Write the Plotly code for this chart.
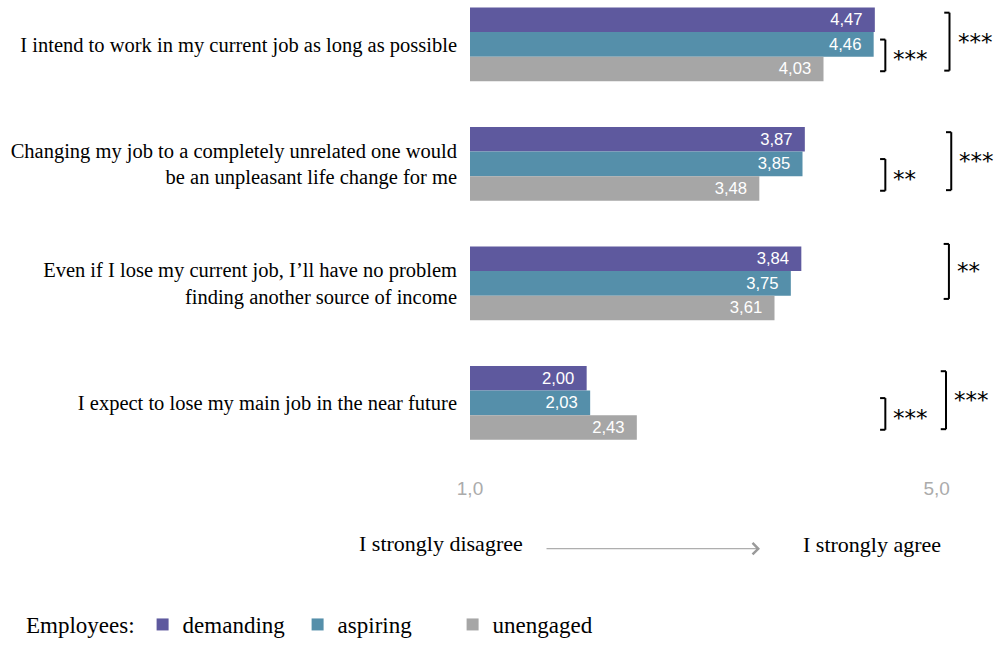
import plotly.graph_objects as go

# ---------------- data ----------------
categories = [
    "I intend to work in my current job as long as possible",
    "Changing my job to a completely unrelated one would<br>be an unpleasant life change for me",
    "Even if I lose my current job, I’ll have no problem<br>finding another source of income",
    "I expect to lose my main job in the near future",
]
demanding = [4.47, 3.87, 3.84, 2.00]
aspiring = [4.46, 3.85, 3.75, 2.03]
unengaged = [4.03, 3.48, 3.61, 2.43]
series_names = ["demanding", "aspiring", "unengaged"]
# significance marks: inner = aspiring vs unengaged, outer = demanding vs unengaged
sig_inner = ["***", "**", "", "***"]
sig_outer = ["***", "***", "**", "***"]
tick_values = [1.0, 5.0]
scale_labels = ["I strongly disagree", "I strongly agree"]
legend_title = "Employees:"

# ---------------- style ----------------
colors = ["#5E599E", "#558FAA", "#A6A6A6"]
SERIF = "Liberation Serif"
SANS = "Liberation Sans"

W, H = 998, 646
ML, MR, MT, MB = 470, 3, 0, 176
plot_h = H - MT - MB
y_top, y_bot = -0.371, 3.503
unit = plot_h / (y_bot - y_top)  # px per category step
bar_step = 25 / unit

fig = go.Figure()
for name, vals, col in zip(series_names, [demanding, aspiring, unengaged], colors):
    fig.add_trace(go.Bar(
        name=name, y=categories, x=vals, orientation="h",
        marker=dict(color=col, line=dict(width=0)),
        texttemplate="%{x:.2f}\u00a0\u00a0", textposition="inside", insidetextanchor="end",
        textfont=dict(family=SANS, size=17, color="white"),
        cliponaxis=True,
    ))

shapes = []
annotations = []


def bracket(cy0, cy1, x, label, ystar_shift=0):
    arm = 0.045
    for (xa, ya, xb, yb) in [(x - arm, cy0, x, cy0), (x, cy0, x, cy1), (x - arm, cy1, x, cy1)]:
        shapes.append(dict(type="line", xref="x", yref="y", x0=xa, y0=ya, x1=xb, y1=yb,
                           line=dict(color="black", width=2)))
    annotations.append(dict(x=x, y=(cy0 + cy1) / 2, xref="x", yref="y", text=label,
                            showarrow=False, xanchor="left", yanchor="middle", xshift=6,
                            yshift=ystar_shift,
                            font=dict(family="DejaVu Sans", size=23, color="black")))


outer_x = [5.11, 5.125, 5.105, 5.08]
for i in range(len(categories)):
    if sig_inner[i]:
        bracket(i - 0.04, i + 0.225, 4.56, sig_inner[i], -4)
    if sig_outer[i]:
        o0, o1 = (-0.265, 0.22) if i != 2 else (-0.33, 0.13)
        bracket(i + o0, i + o1, outer_x[i], sig_outer[i], 0)


def px_x(px):
    return (px - ML) / (W - ML - MR)


def px_y(py):
    return (H - MB - py) / plot_h


annotations.append(dict(x=px_x(441), y=px_y(552), xref="paper", yref="paper",
                        text=scale_labels[0], showarrow=False, xanchor="center", yanchor="middle",
                        font=dict(family=SERIF, size=22, color="black")))
annotations.append(dict(x=px_x(872), y=px_y(553), xref="paper", yref="paper",
                        text=scale_labels[1], showarrow=False, xanchor="center", yanchor="middle",
                        font=dict(family=SERIF, size=22, color="black")))
annotations.append(dict(x=px_x(760), y=px_y(557), xref="paper", yref="paper",
                        ax=-215, ay=0, axref="pixel", ayref="pixel", text="",
                        showarrow=True, arrowhead=4, arrowsize=2.2, arrowwidth=1,
                        arrowcolor="#9A9A9A"))

fig.update_layout(
    width=W, height=H,
    margin=dict(l=ML, r=MR, t=MT, b=MB, pad=0),
    paper_bgcolor="white", plot_bgcolor="white",
    separators=", ",
    barmode="group", bargap=1 - 3 * bar_step, bargroupgap=0,
    showlegend=True,
    legend=dict(orientation="h", x=px_x(24), y=px_y(634), xanchor="left", yanchor="middle",
                title=dict(text=legend_title, side="left",
                           font=dict(family=SERIF, size=23, color="black")),
                font=dict(family=SERIF, size=23, color="black"),
                entrywidth=110, entrywidthmode="pixels",
                bgcolor="rgba(0,0,0,0)"),
    shapes=shapes, annotations=annotations,
    xaxis=dict(range=[1, 5.5], tickvals=tick_values, tickformat=".1f",
               showgrid=False, zeroline=False, showline=False, ticks="",
               ticklabelstandoff=12,
               tickfont=dict(family=SANS, size=19, color="#ABABAB")),
    yaxis=dict(type="category", range=[y_bot, y_top], showgrid=False, zeroline=False,
               showline=False, ticks="", ticklabelstandoff=12,
               tickfont=dict(family=SERIF, size=20.5, color="black")),
)

fig.write_html("out.html")
